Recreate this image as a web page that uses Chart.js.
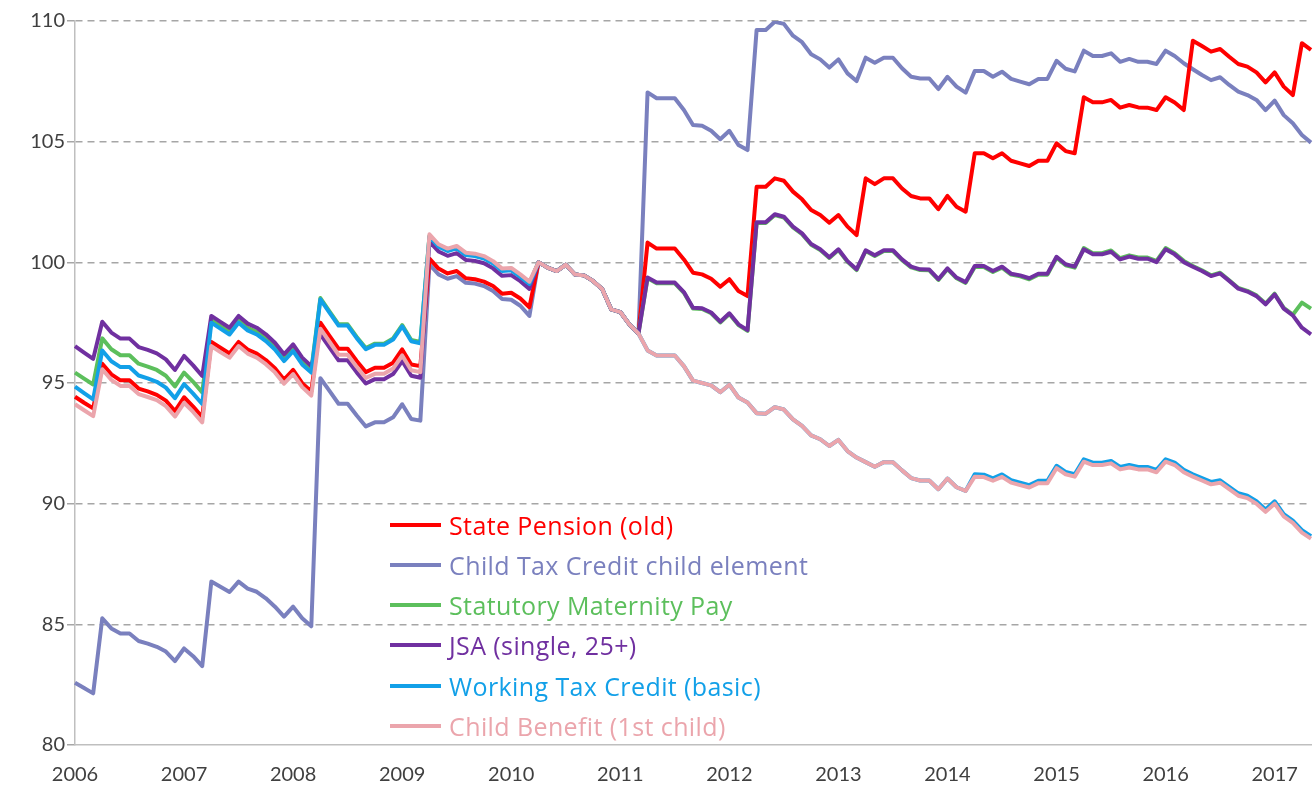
<!DOCTYPE html>
<html>
<head>
<meta charset="utf-8">
<script src="https://cdn.jsdelivr.net/npm/chart.js@4.4.0/dist/chart.umd.min.js"></script>
<style>
  html, body { margin: 0; padding: 0; background: #fff; }
  #wrap { position: relative; width: 1316px; height: 791px; }
  #legend { position: absolute; left: 0; top: 0; font-family: "Open Sans", Lato, sans-serif; font-size: 25px; letter-spacing: 0.4px; }
  .row { position: absolute; left: 390px; height: 30px; white-space: nowrap; }
  .row .swatch { position: absolute; left: 0; top: 13px; width: 51px; height: 4px; }
  .row .txt { position: absolute; left: 59px; top: 0; line-height: 30px; }
</style>
</head>
<body>
<div id="wrap">
  <canvas id="benefitChart" width="1316" height="791"></canvas>
  <div id="legend"></div>
</div>
<script>
// Monthly, Jan 2006 - May 2017, real value index (April 2010 = 100)
const startYear = 2006;
const monthCount = 137;

const statePension = [
  94.43, 94.18, 93.95,
  95.80, 95.36, 95.11, 95.11, 94.77, 94.65, 94.51, 94.27, 93.84, 94.41, 94.02, 93.59,
  96.70, 96.46, 96.22, 96.70, 96.39, 96.22, 95.95, 95.61, 95.14, 95.54, 94.99, 94.65,
  97.50, 96.95, 96.42, 96.42, 95.91, 95.45, 95.63, 95.63, 95.84, 96.39, 95.77, 95.70,
  100.15, 99.74, 99.54, 99.64, 99.34, 99.30, 99.20, 99.02, 98.70, 98.74, 98.50, 98.14,
  100.00, 99.78, 99.64, 99.90, 99.50, 99.46, 99.23, 98.90, 98.05, 97.94, 97.43, 97.05,
  100.82, 100.57, 100.57, 100.57, 100.12, 99.57, 99.50, 99.32, 98.99, 99.30, 98.81, 98.60,
  103.13, 103.13, 103.48, 103.38, 102.93, 102.61, 102.17, 101.96, 101.64, 101.96, 101.48, 101.13,
  103.48, 103.24, 103.48, 103.48, 103.06, 102.75, 102.65, 102.65, 102.20, 102.75, 102.30, 102.10,
  104.52, 104.52, 104.31, 104.52, 104.21, 104.10, 103.99, 104.21, 104.21, 104.93, 104.61, 104.52,
  106.84, 106.63, 106.63, 106.73, 106.41, 106.52, 106.42, 106.41, 106.31, 106.84, 106.62, 106.31,
  109.18, 108.96, 108.73, 108.84, 108.52, 108.22, 108.11, 107.87, 107.46, 107.87, 107.28, 106.93,
  109.08, 108.80
];

const childTaxCredit = [
  82.58, 82.36, 82.14,
  85.25, 84.83, 84.62, 84.62, 84.31, 84.20, 84.07, 83.87, 83.48, 84.00, 83.68, 83.27,
  86.77, 86.56, 86.34, 86.77, 86.48, 86.35, 86.08, 85.73, 85.32, 85.73, 85.25, 84.92,
  95.20, 94.67, 94.14, 94.14, 93.65, 93.20, 93.37, 93.37, 93.58, 94.12, 93.51, 93.44,
  99.91, 99.50, 99.32, 99.43, 99.15, 99.12, 99.02, 98.81, 98.48, 98.45, 98.20, 97.78,
  100.00, 99.78, 99.64, 99.90, 99.50, 99.46, 99.23, 98.90, 98.05, 97.94, 97.43, 97.05,
  107.04, 106.80, 106.80, 106.80, 106.31, 105.69, 105.66, 105.45, 105.10, 105.45, 104.86, 104.65,
  109.63, 109.63, 109.97, 109.88, 109.39, 109.12, 108.62, 108.41, 108.07, 108.41, 107.83, 107.51,
  108.48, 108.27, 108.48, 108.48, 108.04, 107.69, 107.62, 107.62, 107.18, 107.69, 107.28, 107.03,
  107.93, 107.93, 107.69, 107.90, 107.60, 107.49, 107.38, 107.60, 107.60, 108.35, 108.02, 107.91,
  108.77, 108.55, 108.55, 108.66, 108.31, 108.43, 108.31, 108.31, 108.22, 108.77, 108.55, 108.25,
  108.00, 107.76, 107.55, 107.67, 107.35, 107.07, 106.93, 106.73, 106.31, 106.70, 106.10, 105.76,
  105.28, 104.96
];

const maternityPay = [
  95.43, 95.18, 94.94,
  96.85, 96.40, 96.15, 96.15, 95.80, 95.68, 95.54, 95.30, 94.86, 95.43, 95.05, 94.61,
  97.61, 97.36, 97.12, 97.61, 97.29, 97.12, 96.85, 96.50, 96.02, 96.43, 95.88, 95.53,
  98.52, 97.97, 97.43, 97.43, 96.91, 96.45, 96.63, 96.63, 96.85, 97.40, 96.78, 96.70,
  101.09, 100.68, 100.50, 100.61, 100.33, 100.29, 100.19, 99.98, 99.67, 99.70, 99.43, 99.13,
  100.00, 99.78, 99.64, 99.90, 99.50, 99.46, 99.23, 98.90, 98.05, 97.94, 97.43, 97.05,
  99.34, 99.13, 99.13, 99.13, 98.74, 98.09, 98.07, 97.89, 97.51, 97.86, 97.40, 97.16,
  101.63, 101.63, 101.96, 101.86, 101.45, 101.17, 100.73, 100.51, 100.18, 100.51, 100.02, 99.68,
  100.47, 100.26, 100.47, 100.47, 100.09, 99.79, 99.68, 99.67, 99.27, 99.72, 99.34, 99.15,
  99.81, 99.81, 99.60, 99.78, 99.49, 99.42, 99.30, 99.49, 99.49, 100.19, 99.88, 99.78,
  100.59, 100.38, 100.38, 100.49, 100.17, 100.29, 100.20, 100.20, 100.06, 100.59, 100.38, 100.06,
  99.85, 99.67, 99.46, 99.57, 99.26, 98.94, 98.82, 98.63, 98.29, 98.70, 98.11, 97.83,
  98.33, 98.08
];

const jsaSingle = [
  96.53, 96.26, 96.00,
  97.54, 97.09, 96.84, 96.84, 96.49, 96.37, 96.23, 95.98, 95.54, 96.12, 95.73, 95.29,
  97.78, 97.53, 97.29, 97.78, 97.46, 97.29, 97.02, 96.67, 96.19, 96.60, 96.05, 95.70,
  97.02, 96.48, 95.94, 95.94, 95.44, 94.98, 95.16, 95.16, 95.37, 95.91, 95.30, 95.22,
  100.86, 100.45, 100.27, 100.38, 100.10, 100.06, 99.96, 99.75, 99.44, 99.47, 99.22, 98.90,
  100.00, 99.78, 99.64, 99.90, 99.50, 99.46, 99.23, 98.90, 98.05, 97.94, 97.43, 97.05,
  99.37, 99.16, 99.16, 99.16, 98.77, 98.12, 98.10, 97.92, 97.54, 97.89, 97.43, 97.19,
  101.66, 101.66, 101.99, 101.89, 101.48, 101.20, 100.76, 100.54, 100.21, 100.54, 100.05, 99.71,
  100.50, 100.29, 100.50, 100.50, 100.12, 99.82, 99.71, 99.70, 99.30, 99.75, 99.37, 99.18,
  99.85, 99.85, 99.64, 99.82, 99.53, 99.46, 99.34, 99.53, 99.53, 100.23, 99.92, 99.82,
  100.54, 100.33, 100.33, 100.44, 100.12, 100.24, 100.15, 100.15, 100.01, 100.54, 100.33, 100.01,
  99.82, 99.64, 99.43, 99.54, 99.23, 98.91, 98.79, 98.60, 98.26, 98.67, 98.08, 97.80,
  97.29, 97.02
];

const workingTaxCredit = [
  94.85, 94.58, 94.32,
  96.35, 95.90, 95.66, 95.66, 95.31, 95.19, 95.05, 94.81, 94.37, 94.95, 94.56, 94.13,
  97.50, 97.25, 97.01, 97.50, 97.18, 97.01, 96.74, 96.39, 95.91, 96.32, 95.77, 95.43,
  98.47, 97.92, 97.38, 97.38, 96.86, 96.40, 96.58, 96.58, 96.80, 97.35, 96.73, 96.65,
  101.06, 100.65, 100.47, 100.58, 100.30, 100.26, 100.16, 99.95, 99.64, 99.67, 99.40, 99.10,
  100.00, 99.78, 99.64, 99.90, 99.50, 99.46, 99.23, 98.90, 98.05, 97.94, 97.43, 97.05,
  96.35, 96.14, 96.14, 96.14, 95.70, 95.10, 95.00, 94.90, 94.62, 94.93, 94.40, 94.19,
  93.75, 93.73, 94.00, 93.90, 93.49, 93.22, 92.83, 92.67, 92.39, 92.64, 92.18, 91.91,
  91.72, 91.53, 91.72, 91.72, 91.38, 91.06, 90.96, 90.96, 90.60, 91.04, 90.68, 90.53,
  91.22, 91.20, 91.05, 91.21, 90.97, 90.87, 90.77, 90.95, 90.95, 91.57, 91.32, 91.22,
  91.84, 91.70, 91.70, 91.77, 91.52, 91.60, 91.52, 91.52, 91.40, 91.84, 91.70, 91.40,
  91.22, 91.06, 90.90, 90.97, 90.70, 90.43, 90.33, 90.10, 89.76, 90.10, 89.57, 89.30,
  88.90, 88.65
];

const childBenefit = [
  94.12, 93.87, 93.63,
  95.57, 95.13, 94.88, 94.88, 94.54, 94.42, 94.29, 94.04, 93.61, 94.18, 93.80, 93.37,
  96.53, 96.28, 96.05, 96.53, 96.22, 96.05, 95.78, 95.44, 94.97, 95.37, 94.83, 94.48,
  97.25, 96.71, 96.17, 96.17, 95.67, 95.21, 95.38, 95.38, 95.60, 96.14, 95.53, 95.45,
  101.16, 100.75, 100.57, 100.68, 100.40, 100.36, 100.26, 100.05, 99.74, 99.77, 99.50, 99.20,
  100.00, 99.78, 99.64, 99.90, 99.50, 99.46, 99.23, 98.90, 98.05, 97.94, 97.43, 97.05,
  96.35, 96.14, 96.14, 96.14, 95.70, 95.10, 95.00, 94.90, 94.62, 94.93, 94.40, 94.19,
  93.75, 93.73, 94.00, 93.90, 93.49, 93.22, 92.83, 92.67, 92.39, 92.64, 92.18, 91.91,
  91.72, 91.53, 91.72, 91.72, 91.38, 91.06, 90.96, 90.96, 90.60, 91.04, 90.68, 90.53,
  91.12, 91.10, 90.95, 91.11, 90.87, 90.77, 90.67, 90.85, 90.85, 91.47, 91.22, 91.12,
  91.74, 91.60, 91.60, 91.67, 91.42, 91.50, 91.42, 91.42, 91.30, 91.74, 91.60, 91.30,
  91.12, 90.96, 90.80, 90.87, 90.60, 90.33, 90.23, 90.00, 89.66, 90.00, 89.47, 89.20,
  88.80, 88.55
];

const yTicks = [80, 85, 90, 95, 100, 105, 110];

// month categories, label shown only in January
const months = [];
for (let i = 0; i < monthCount; i++) {
  months.push((startYear + Math.floor(i / 12)) + '-' + String(i % 12 + 1).padStart(2, '0'));
}

const series = [
  { label: 'State Pension (old)', data: statePension, color: '#FF0000', order: 5 },
  { label: 'Child Tax Credit child element', data: childTaxCredit, color: '#7A80BE', order: 6 },
  { label: 'Statutory Maternity Pay', data: maternityPay, color: '#5CBF5C', order: 4 },
  { label: 'JSA (single, 25+)', data: jsaSingle, color: '#7030A0', order: 3 },
  { label: 'Working Tax Credit (basic)', data: workingTaxCredit, color: '#12A0E8', order: 2 },
  { label: 'Child Benefit (1st child)', data: childBenefit, color: '#EBA5AC', order: 1 }
];

const axisFont = { family: 'Lato, "Open Sans", sans-serif', size: 20 };

const chart = new Chart(document.getElementById('benefitChart'), {
  type: 'line',
  data: {
    labels: months,
    datasets: series.map(s => ({
      label: s.label,
      data: s.data,
      borderColor: s.color,
      backgroundColor: s.color,
      borderWidth: 4,
      pointRadius: 0,
      tension: 0,
      fill: false,
      order: s.order,
      borderJoinStyle: 'round'
    }))
  },
  options: {
    responsive: false,
    animation: false,
    layout: { padding: { top: 21, right: 5, left: 0, bottom: 0 } },
    plugins: { legend: { display: false }, tooltip: { enabled: false } },
    scales: {
      x: {
        type: 'category',
        offset: false,
        grid: { display: false, drawTicks: false },
        border: { display: true, color: '#bfbfbf', width: 1.5 },
        ticks: {
          autoSkip: false,
          maxRotation: 0,
          minRotation: 0,
          padding: 18,
          color: '#404040',
          font: axisFont,
          callback: function(val, idx) {
            const m = months[idx];
            return m.endsWith('-01') ? m.slice(0, 4) : '';
          }
        },
        afterFit: function(scale) {
          scale.height = 46;
          scale.paddingLeft = 0;
          scale.paddingRight = 0;
        }
      },
      y: {
        min: 80,
        max: 110,
        afterBuildTicks: function(scale) {
          scale.ticks = yTicks.map(v => ({ value: v }));
        },
        grid: {
          color: ctx => (ctx.tick && ctx.tick.value === 80) ? 'rgba(0,0,0,0)' : '#a6a6a6',
          lineWidth: 1.5,
          tickLength: 8,
          tickColor: '#a6a6a6',
          tickBorderDash: [7, 5]
        },
        border: { display: true, color: '#bfbfbf', width: 1.5, dash: [7, 5] },
        ticks: { padding: 2, color: '#404040', font: axisFont },
        afterFit: function(scale) { scale.width = 75; }
      }
    }
  }
});

// html legend inside the plot
const legendTop = [525, 565, 605, 645, 686, 726];
const legendEl = document.getElementById('legend');
series.forEach((s, i) => {
  const row = document.createElement('div');
  row.className = 'row';
  row.style.top = (legendTop[i] - 15) + 'px';
  row.innerHTML = '<div class="swatch" style="background:' + s.color + '"></div>' +
    '<span class="txt" style="color:' + s.color + '">' + s.label + '</span>';
  legendEl.appendChild(row);
});
</script>
</body>
</html>
